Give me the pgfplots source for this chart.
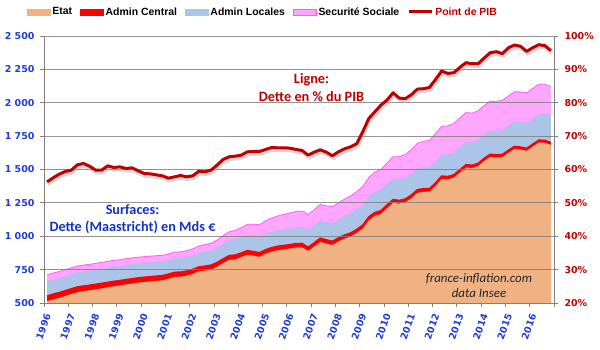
\documentclass[border=0pt]{standalone}
\usepackage{pgfplots}
\pgfplotsset{compat=1.18}
\usepackage{pgfplotstable}
\usepackage{fontspec}
\setmainfont{Liberation Sans}
\newfontfamily\dvfont{DejaVu Sans}
\newfontfamily\calfont{Carlito}
\definecolor{etat}{RGB}{240,178,130}
\definecolor{bluec}{RGB}{170,197,232}
\definecolor{pinkc}{RGB}{255,166,255}
\definecolor{pinkline}{RGB}{255,90,255}
\definecolor{darkred}{RGB}{192,0,0}
\definecolor{tickblue}{RGB}{30,60,215}
\definecolor{annblue}{RGB}{20,50,200}
\definecolor{gridc}{RGB}{128,128,128}

\pgfplotstableread{
x E R B P pib
1996.125 513 553 661 711 56.3
1996.375 526 566 675 724 57.5
1996.625 539 578 687 736 58.6
1996.875 553 592 702 750 59.4
1997.125 567 606 716 763 59.8
1997.375 581 620 730 777 61.4
1997.625 589 627 737 784 61.8
1997.875 595 633 743 790 61.0
1998.125 602 640 750 797 59.8
1998.375 609 647 757 804 59.8
1998.625 618 655 765 812 61.1
1998.875 625 662 772 819 60.6
1999.125 631 668 778 825 60.8
1999.375 639 675 785 832 60.3
1999.625 646 682 791 838 60.5
1999.875 652 688 797 843 59.6
2000.125 657 693 801 847 58.8
2000.375 662 697 805 851 58.7
2000.625 666 701 809 854 58.4
2000.875 670 705 812 857 58.1
2001.125 681 716 823 867 57.4
2001.375 696 730 837 882 57.8
2001.625 697 731 837 883 58.2
2001.875 705 739 845 892 57.8
2002.125 718 752 857 905 58.1
2002.375 737 770 877 927 59.5
2002.625 743 776 885 937 59.3
2002.875 750 783 893 947 59.8
2003.125 771 803 915 971 61.3
2003.375 798 830 944 1004 63.0
2003.625 823 855 970 1034 63.8
2003.875 827 859 976 1044 64.0
2004.125 844 875 993 1065 64.3
2004.375 861 892 1011 1089 65.3
2004.625 855 886 1006 1090 65.4
2004.875 845 876 997 1086 65.4
2005.125 869 899 1021 1116 66.0
2005.375 884 914 1036 1136 66.6
2005.625 895 925 1047 1152 66.5
2005.875 902 931 1053 1163 66.5
2006.125 908 937 1059 1174 66.4
2006.375 916 945 1069 1185 66.0
2006.625 917 946 1072 1189 65.7
2006.875 890 918 1046 1163 64.3
2007.125 922 950 1080 1198 65.2
2007.375 958 986 1119 1238 65.9
2007.625 945 973 1108 1228 65.2
2007.875 935 962 1100 1221 64.1
2008.125 961 988 1128 1250 65.3
2008.375 982 1009 1153 1278 66.2
2008.625 997 1024 1172 1301 66.8
2008.875 1025 1051 1202 1334 67.7
2009.125 1057 1083 1238 1373 71.3
2009.375 1119 1145 1301 1441 75.3
2009.625 1153 1178 1336 1481 77.3
2009.875 1166 1191 1350 1500 79.3
2010.125 1210 1235 1395 1550 80.8
2010.375 1250 1275 1435 1596 83.0
2010.625 1244 1268 1428 1596 81.4
2010.875 1255 1279 1439 1613 81.2
2011.125 1284 1308 1468 1648 82.4
2011.375 1325 1349 1510 1696 84.1
2011.625 1333 1356 1518 1711 84.2
2011.875 1334 1357 1519 1718 84.6
2012.125 1377 1400 1563 1768 87.0
2012.375 1429 1451 1616 1824 89.5
2012.625 1425 1447 1614 1826 88.8
2012.875 1439 1461 1629 1844 89.0
2013.125 1476 1498 1668 1886 90.6
2013.375 1515 1536 1708 1926 92.0
2013.625 1511 1532 1706 1923 91.7
2013.875 1525 1546 1722 1939 91.7
2014.125 1563 1584 1762 1978 93.4
2014.375 1594 1614 1794 2012 95.0
2014.625 1590 1610 1792 2011 95.3
2014.875 1593 1613 1796 2017 94.7
2015.125 1625 1644 1829 2051 96.5
2015.375 1654 1673 1860 2083 97.3
2015.625 1649 1668 1857 2081 96.9
2015.875 1640 1659 1849 2074 95.4
2016.125 1672 1690 1882 2108 96.5
2016.375 1702 1720 1916 2139 97.4
2016.625 1700 1718 1918 2138 97.1
2016.875 1684 1702 1906 2123 95.6
}\data

\begin{document}
\begin{tikzpicture}
\useasboundingbox (0bp,0bp) rectangle (600bp,350bp);
\begin{axis}[
  at={(44bp,47bp)}, anchor=south west, scale only axis,
  width=510bp, height=267bp,
  xmin=1996, xmax=2017, ymin=500, ymax=2500,
  axis on top,
  axis x line*=bottom, axis y line*=left,
  axis line style={gridc, line width=0.8bp, -},
  tick style={gridc, line width=0.8bp},
  tick align=outside, major tick length=4bp,
  ymajorgrids, grid style={gridc, line width=0.8bp, opacity=0.85},
  ytick={500,750,...,2500},
  yticklabels={500,750,1 000,1 250,1 500,1 750,2 000,2 250,2 500},
  yticklabel style={font=\dvfont\bfseries\fontsize{9.5}{10}\selectfont, text=tickblue, xshift=-2bp},
  xtick={1996,...,2017},
  xticklabels={1996,1997,1998,1999,2000,2001,2002,2003,2004,2005,2006,2007,2008,2009,2010,2011,2012,2013,2014,2015,2016,{}},
  xticklabel style={font=\dvfont\bfseries\fontsize{9.5}{10}\selectfont, text=tickblue, xshift=5bp, yshift=-4bp, rotate=70, anchor=east},
  legend style={draw=none, fill=none, legend columns=5, at={(0.4294,1.09)}, anchor=center,
    font=\bfseries\fontsize{10.5}{12}\selectfont, inner sep=0pt,
    nodes={inner xsep=2bp, inner ysep=1bp},
    /tikz/every even column/.append style={column sep=6bp}},
  legend cell align=left,
]
\addplot[fill=pinkc, draw=none, forget plot] table[x=x,y=P]{\data} \closedcycle;
\addplot[fill=bluec, draw=none, forget plot] table[x=x,y=B]{\data} \closedcycle;
\addplot[fill=red, draw=none, forget plot] table[x=x,y=R]{\data} \closedcycle;
\addplot[fill=etat, draw=none, forget plot] table[x=x,y=E]{\data} \closedcycle;
\addplot[pinkline, line width=0.8bp, forget plot] table[x=x,y=P]{\data};
\addplot[pinkline!60, line width=0.6bp, forget plot] table[x=x,y=B]{\data};
\addplot[red, line width=1.5bp, forget plot] table[x=x,y=R]{\data};
\addlegendimage{legend image code/.code={\fill[etat] (0bp,-3bp) rectangle (23bp,3bp);}}
\addlegendentry{Etat}
\addlegendimage{legend image code/.code={\fill[red] (0bp,-3bp) rectangle (23bp,3bp);}}
\addlegendentry{Admin Central}
\addlegendimage{legend image code/.code={\fill[bluec] (0bp,-3bp) rectangle (23bp,3bp);}}
\addlegendentry{Admin Locales}
\addlegendimage{legend image code/.code={\filldraw[fill=pinkc, draw=pinkline, line width=0.6bp] (0bp,-3bp) rectangle (23bp,3bp);}}
\addlegendentry{Securité Sociale}
\addlegendimage{legend image code/.code={\draw[darkred, line width=3bp] (0bp,0bp) -- (23bp,0bp);}}
\addlegendentry{\textcolor{darkred}{Point de PIB}}
\end{axis}
\begin{axis}[
  at={(44bp,47bp)}, anchor=south west, scale only axis,
  width=510bp, height=267bp,
  xmin=1996, xmax=2017, ymin=20, ymax=100,
  axis x line=none, axis y line*=right,
  axis line style={gridc, line width=0.8bp, -},
  tick style={gridc, line width=0.8bp},
  tick align=outside, major tick length=4bp,
  ytick={20,30,...,100},
  yticklabels={20\%,30\%,40\%,50\%,60\%,70\%,80\%,90\%,100\%},
  yticklabel style={font=\dvfont\bfseries\fontsize{9.5}{10}\selectfont, text=darkred, xshift=3bp},
]
\addplot[black!35, line width=3.5bp, opacity=0.45, transform canvas={xshift=1bp,yshift=-2.5bp}] table[x=x,y=pib]{\data};
\addplot[darkred, line width=3bp, line join=round] table[x=x,y=pib]{\data};
\end{axis}
\node[font=\calfont\bfseries\fontsize{14.3}{17}\selectfont, text=annblue, align=center] at (132.5bp,130.6bp) {Surfaces:\\Dette (Maastricht) en Mds €};
\node[font=\calfont\bfseries\fontsize{14.3}{18}\selectfont, text=darkred, align=center] at (311.5bp,262bp) {Ligne:\\Dette en \% du PIB};
\node[font=\calfont\itshape\fontsize{13}{15}\selectfont, text=black!85, align=center] at (479bp,64.5bp) {france-inflation.com\\data Insee};
\end{tikzpicture}
\end{document}
